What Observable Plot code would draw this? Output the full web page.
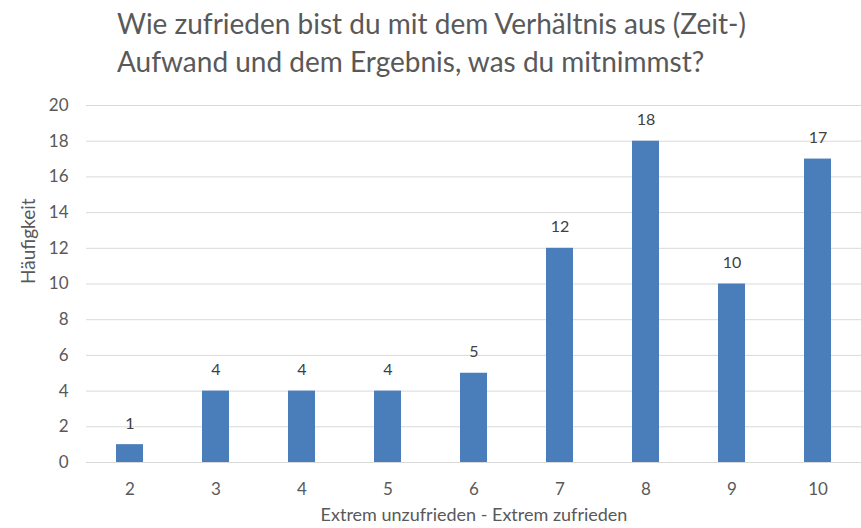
<!DOCTYPE html>
<html>
<head>
<meta charset="utf-8">
<script src="https://cdn.jsdelivr.net/npm/d3@7"></script>
<script src="https://cdn.jsdelivr.net/npm/@observablehq/plot@0.6"></script>
<style>
  html, body { margin: 0; padding: 0; background: #fff; }
  #title { height: 88px; box-sizing: border-box; padding: 4px 0 0 117px; font-family: Lato, sans-serif; font-size: 28px; line-height: 38px; color: #595959; }
  svg { display: block; }
</style>
</head>
<body>
<div id="title">Wie zufrieden bist du mit dem Verhältnis aus (Zeit-)<br>Aufwand und dem Ergebnis, was du mitnimmst?</div>
<div id="chart"></div>
<script>
const categories = ["2", "3", "4", "5", "6", "7", "8", "9", "10"];
const values = [1, 4, 4, 4, 5, 12, 18, 10, 17];
const yTicks = [0, 2, 4, 6, 8, 10, 12, 14, 16, 18, 20];

const data = categories.map((c, i) => ({cat: c, val: values[i]}));

const chart = Plot.plot({
  width: 861,
  height: 440,
  marginLeft: 86,
  marginRight: 0,
  marginTop: 17,
  marginBottom: 66,
  style: {fontFamily: "Lato, sans-serif", fontSize: "16px", color: "#595959", background: "#fff"},
  x: {domain: categories, paddingInner: 0.69, paddingOuter: 0.34, label: null},
  y: {domain: [0, 20], ticks: yTicks, label: null},
  marks: [
    Plot.gridY(yTicks, {stroke: "#d9d9d9", strokeOpacity: 1, strokeWidth: 1}),
    Plot.barY(data, {x: "cat", y: "val", fill: "#4a7ebb"}),
    Plot.text(data, {x: "cat", y: "val", text: d => String(d.val), dy: -21, fill: "#404040", fontSize: 16}),
    Plot.axisY(yTicks, {tickSize: 0, tickPadding: 18, fontSize: 17, fill: "#595959", label: null}),
    Plot.axisX(categories, {tickSize: 0, tickPadding: 20, fontSize: 17, fill: "#595959", label: null}),
    Plot.text(["Extrem unzufrieden - Extrem zufrieden"], {frameAnchor: "bottom", dy: 58, fontSize: 18, fill: "#595959"}),
    Plot.text(["Häufigkeit"], {frameAnchor: "left", dx: -58, rotate: -90, fontSize: 19, fill: "#595959"})
  ]
});
document.getElementById("chart").appendChild(chart);
</script>
</body>
</html>
